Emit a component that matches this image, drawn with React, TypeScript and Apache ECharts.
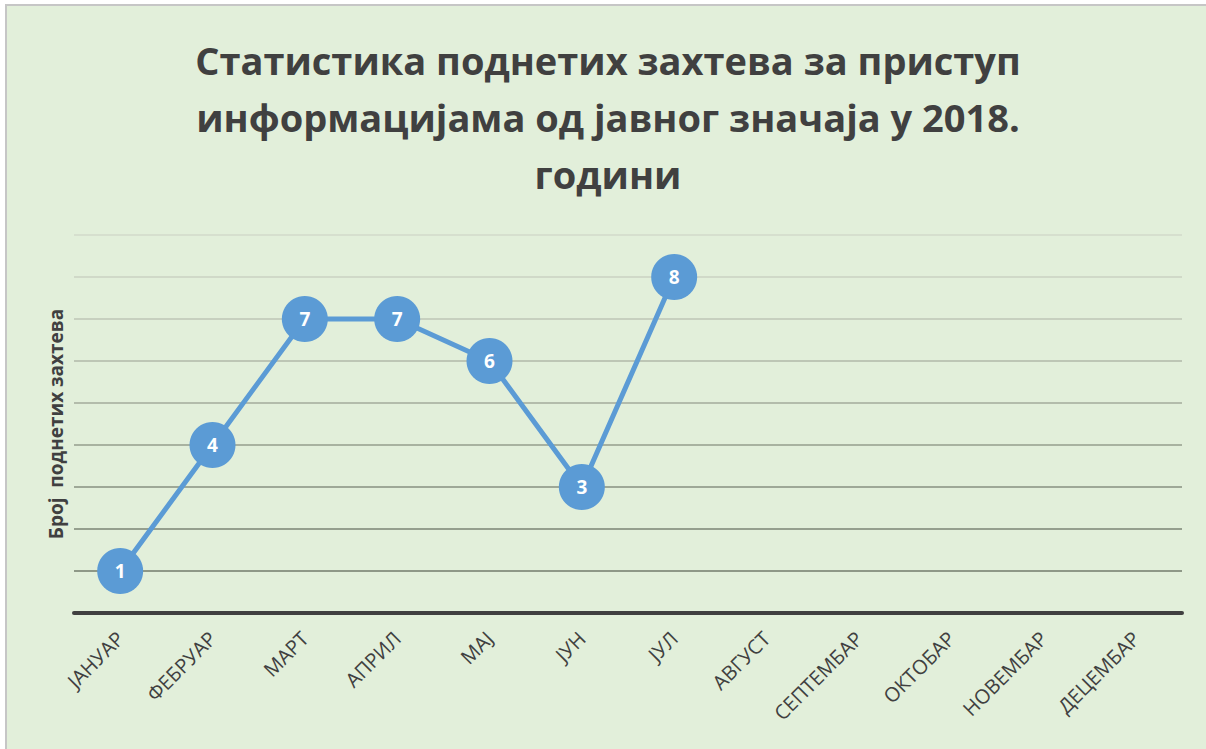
import React, { useEffect, useRef } from "react";
import * as echarts from "echarts";

const months = ["ЈАНУАР", "ФЕБРУАР", "МАРТ", "АПРИЛ", "МАЈ", "ЈУН", "ЈУЛ", "АВГУСТ", "СЕПТЕМБАР", "ОКТОБАР", "НОВЕМБАР", "ДЕЦЕМБАР"];
const requests = [1, 4, 7, 7, 6, 3, 8, null, null, null, null, null];
const titleLines = ["Статистика поднетих захтева за приступ", "информацијама од јавног значаја у 2018.", "години"];
const yAxisName = "Број  поднетих захтева";
const gridColors = ["#8e9887", "#8e9887", "#959f8e", "#9ea897", "#a8b2a0", "#b3bcab", "#bdc6b5", "#c7d0bf", "#d0d9c8", "#d6dfce"];

export default function App() {
  const ref = useRef<HTMLDivElement>(null);
  useEffect(() => {
    const chart = echarts.init(ref.current!, null, { renderer: "svg" });
    chart.setOption({
      animation: false,
      backgroundColor: "#ffffff",
      graphic: [
        {
          type: "rect",
          z: -10,
          shape: { x: 6, y: 5, width: 1210, height: 760 },
          style: { fill: "#e2efda", stroke: "#c6c6c6", lineWidth: 2 },
        },
        {
          type: "text",
          x: 608,
          y: 31,
          style: {
            text: titleLines.join("\n"),
            fill: "#404040",
            font: 'bold 38px "Open Sans"',
            lineHeight: 57,
            align: "center",
            verticalAlign: "top",
          },
        },
      ],
      grid: { left: 74, right: 24, top: 235, bottom: 136 },
      xAxis: {
        type: "category",
        data: months,
        boundaryGap: true,
        axisLine: { show: true, lineStyle: { color: "#404040", width: 4 } },
        axisTick: { show: false },
        axisLabel: {
          rotate: 45,
          interval: 0,
          margin: 22,
          color: "#404040",
          fontSize: 20,
          fontFamily: "Open Sans",
        },
        z: 5,
      },
      yAxis: {
        type: "value",
        min: 0,
        max: 9,
        interval: 1,
        name: yAxisName,
        nameLocation: "middle",
        nameGap: 9,
        nameTextStyle: { color: "#404040", fontSize: 19, fontWeight: "bold", fontFamily: "Open Sans" },
        axisLine: { show: false },
        axisTick: { show: false },
        axisLabel: { show: false },
        splitLine: { show: true, lineStyle: { color: gridColors, width: 2 } },
      },
      series: [
        {
          type: "line",
          data: requests,
          connectNulls: false,
          symbol: "circle",
          symbolSize: 46,
          lineStyle: { color: "#5b9bd5", width: 5 },
          itemStyle: { color: "#5b9bd5" },
          label: {
            show: true,
            position: "inside",
            color: "#ffffff",
            fontSize: 19,
            fontWeight: "bold",
            fontFamily: "Open Sans",
          },
          z: 10,
        },
      ],
    });
    return () => chart.dispose();
  }, []);
  return <div ref={ref} style={{ position: "fixed", left: 0, top: 0, width: 1206, height: 749 }} />;
}
